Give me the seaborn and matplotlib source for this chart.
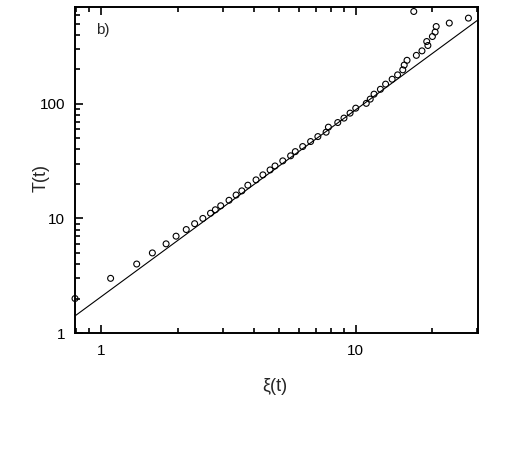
import numpy as np
import pandas as pd
import matplotlib
matplotlib.use('Agg')
import matplotlib.pyplot as plt
import matplotlib.ticker as mticker
import seaborn as sns

# values
xi = [0.79, 1.09, 1.38, 1.59, 1.80, 1.97, 2.16, 2.33, 2.51, 2.69, 2.81, 2.95,
      3.18, 3.39, 3.57, 3.77, 4.06, 4.32, 4.61, 4.82, 5.17, 5.55, 5.79, 6.19,
      6.65, 7.10, 7.65, 7.81, 8.50, 8.99, 9.50, 10.0, 11.0, 11.4, 11.8, 12.5,
      13.1, 13.9, 14.6, 15.3, 15.5, 15.9, 16.9, 17.3, 18.2, 19.2, 19.0, 20.0,
      20.5, 20.7, 23.3, 27.7]
T = [2.0, 3.0, 4.0, 5.0, 6.0, 7.0, 8.0, 9.0, 10.0, 11.1, 11.9, 12.9,
     14.4, 16.0, 17.4, 19.5, 21.7, 24.0, 26.5, 28.7, 31.8, 35.2, 38.3, 42.4,
     46.9, 51.8, 56.6, 62.6, 68.7, 75.1, 83.0, 91.7, 101, 110, 121.5, 134,
     148.6, 164, 179, 198, 218, 240, 640, 265, 290, 323, 350, 387,
     423, 473, 507, 560]

# fitted power law, endpoints
fit_xi = [0.79, 30.2]
fit_T = [1.41, 540]

df = pd.DataFrame({'xi': xi, 'T': T})
fit_df = pd.DataFrame({'xi': fit_xi, 'T': fit_T})

sns.set_style('ticks')
plt.rcParams['font.family'] = ['Liberation Sans', 'DejaVu Sans']

fig = plt.figure(figsize=(5.26, 4.62), dpi=100)
ax = fig.add_axes([0.1426, 0.2792, 0.7661, 0.7056])

sns.lineplot(x='xi', y='T', data=fit_df, color='black', linewidth=0.8, ax=ax)
sns.scatterplot(x='xi', y='T', data=df, marker='o', s=18, facecolor='none',
                edgecolor='black', linewidth=0.8, ax=ax, clip_on=False, zorder=3)

ax.set_xscale('log')
ax.set_yscale('log')
ax.set_xlim(0.79, 30.2)
ax.set_ylim(1, 700)

ax.xaxis.set_major_locator(mticker.FixedLocator([1, 10]))
ax.xaxis.set_major_formatter(mticker.FixedFormatter(['1', '10']))
ax.yaxis.set_major_locator(mticker.FixedLocator([1, 10, 100]))
ax.yaxis.set_major_formatter(mticker.FixedFormatter(['1', '10', '100']))
ax.xaxis.set_minor_locator(mticker.LogLocator(base=10, subs=np.arange(2, 10)))
ax.yaxis.set_minor_locator(mticker.LogLocator(base=10, subs=np.arange(2, 10)))
ax.xaxis.set_minor_formatter(mticker.NullFormatter())
ax.yaxis.set_minor_formatter(mticker.NullFormatter())

ax.tick_params(which='both', direction='in', top=True, right=False,
               width=1.2, labelsize=11, colors='black')
ax.tick_params(which='major', length=6)
ax.tick_params(which='minor', length=3.5)
ax.tick_params(axis='x', pad=8)
ax.tick_params(axis='y', pad=7)

for sp in ax.spines.values():
    sp.set_linewidth(1.4)
    sp.set_color('black')
    sp.set_visible(True)

ax.set_xlabel('ξ(t)', fontsize=13, va='center')
ax.set_ylabel('T(t)', fontsize=13, va='center')
ax.xaxis.set_label_coords(0.495, -0.163)
ax.yaxis.set_label_coords(-0.084, 0.475)
ax.text(0.052, 0.93, 'b)', transform=ax.transAxes, fontsize=11, va='center')

fig.savefig('out.png', dpi=100)
